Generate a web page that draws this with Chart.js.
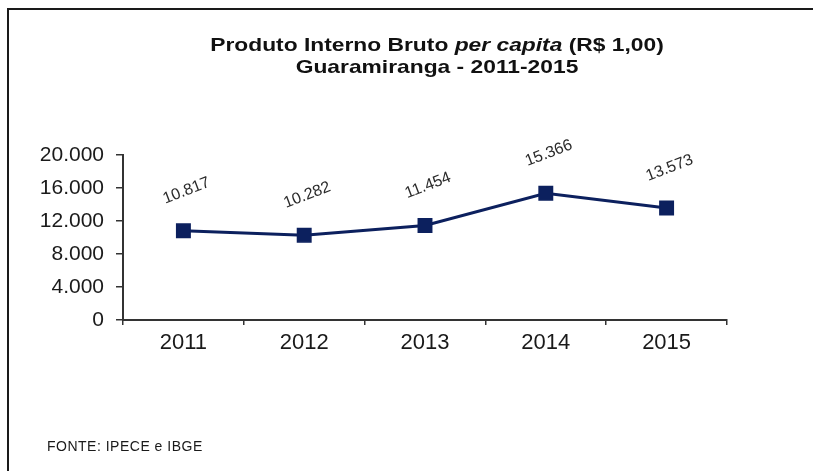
<!DOCTYPE html>
<html>
<head>
<meta charset="utf-8">
<script src="https://cdn.jsdelivr.net/npm/chart.js@4/dist/chart.umd.min.js"></script>
<style>
  html, body { margin: 0; padding: 0; background: #fff; }
  #wrap { position: relative; width: 813px; height: 471px; overflow: hidden; background: #fff; }
  #frame { position: absolute; left: 7px; top: 8px; width: 806px; height: 470px;
           border-top: 2px solid #1a1a1a; border-left: 2px solid #1a1a1a; box-sizing: border-box; }
  #title { position: absolute; left: 0; top: 34px; width: 874px; text-align: center;
           font-family: "Liberation Sans", Arial, sans-serif; font-weight: bold; font-size: 19px;
           line-height: 22px; color: #111; transform: scaleX(1.2); transform-origin: 437px 0; }
  #footer { position: absolute; left: 47px; top: 438px; font-family: "Liberation Sans", Arial, sans-serif;
            font-size: 14px; line-height: 16px; color: #1a1a1a; letter-spacing: 0.5px; }
  canvas { position: absolute; left: 0; top: 0; }
</style>
</head>
<body>
<div id="wrap">
  <div id="frame"></div>
  <canvas id="c" width="813" height="471"></canvas>
  <div id="title">Produto Interno Bruto <i>per capita</i> (R$ 1,00)<br>Guaramiranga - 2011-2015</div>
  <div id="footer">FONTE: IPECE e IBGE</div>
</div>
<script>
const categories = ['2011', '2012', '2013', '2014', '2015'];
const pibPerCapita = [10817, 10282, 11454, 15366, 13573];
const yTickValues = [0, 4000, 8000, 12000, 16000, 20000];

function fmt(v) {
  return String(Math.round(v)).replace(/\B(?=(\d{3})+(?!\d))/g, '.');
}

const dataLabels = {
  id: 'dataLabels',
  afterDatasetsDraw(chart) {
    const ctx = chart.ctx;
    const meta = chart.getDatasetMeta(0);
    ctx.save();
    ctx.font = '16px "Liberation Sans", Arial, sans-serif';
    ctx.fillStyle = '#2a2a2a';
    ctx.textAlign = 'center';
    ctx.textBaseline = 'middle';
    meta.data.forEach((pt, i) => {
      ctx.save();
      ctx.translate(pt.x + 3, pt.y - 40);
      ctx.rotate(-21 * Math.PI / 180);
      ctx.fillText(fmt(chart.data.datasets[0].data[i]), 0, 0);
      ctx.restore();
    });
    ctx.restore();
  }
};

new Chart(document.getElementById('c'), {
  type: 'line',
  data: {
    labels: categories,
    datasets: [{
      data: pibPerCapita,
      borderColor: '#0c205e',
      backgroundColor: '#0c205e',
      borderWidth: 3,
      pointStyle: 'rect',
      pointRadius: 9.5,
      pointBorderWidth: 1.5,
      pointBackgroundColor: '#0c205e',
      pointBorderColor: '#0c205e',
      tension: 0,
      fill: false
    }]
  },
  options: {
    responsive: false,
    devicePixelRatio: 1,
    animation: false,
    layout: { padding: { left: 0, top: 155, right: 86, bottom: 111 } },
    plugins: { legend: { display: false }, title: { display: false }, tooltip: { enabled: false } },
    scales: {
      x: {
        type: 'category',
        offset: true,
        afterFit: s => { s.height = 40; },
        grid: { drawOnChartArea: false, drawTicks: true, tickLength: 5, offset: true, color: '#333', lineWidth: 1.5 },
        border: { display: true, color: '#333', width: 2 },
        ticks: { padding: 5, color: '#1a1a1a', font: { family: '"Liberation Sans", Arial, sans-serif', size: 22 } }
      },
      y: {
        min: 0,
        max: 20000,
        afterFit: s => { s.width = 123; },
        afterBuildTicks: s => { s.ticks = yTickValues.map(v => ({ value: v })); },
        grid: { drawOnChartArea: false, drawTicks: true, tickLength: 7, color: '#333', lineWidth: 1.5 },
        border: { display: true, color: '#333', width: 2 },
        ticks: { padding: 12, color: '#1a1a1a', callback: v => fmt(v),
                 font: { family: '"Liberation Sans", Arial, sans-serif', size: 21 } }
      }
    }
  },
  plugins: [dataLabels]
});
</script>
</body>
</html>
